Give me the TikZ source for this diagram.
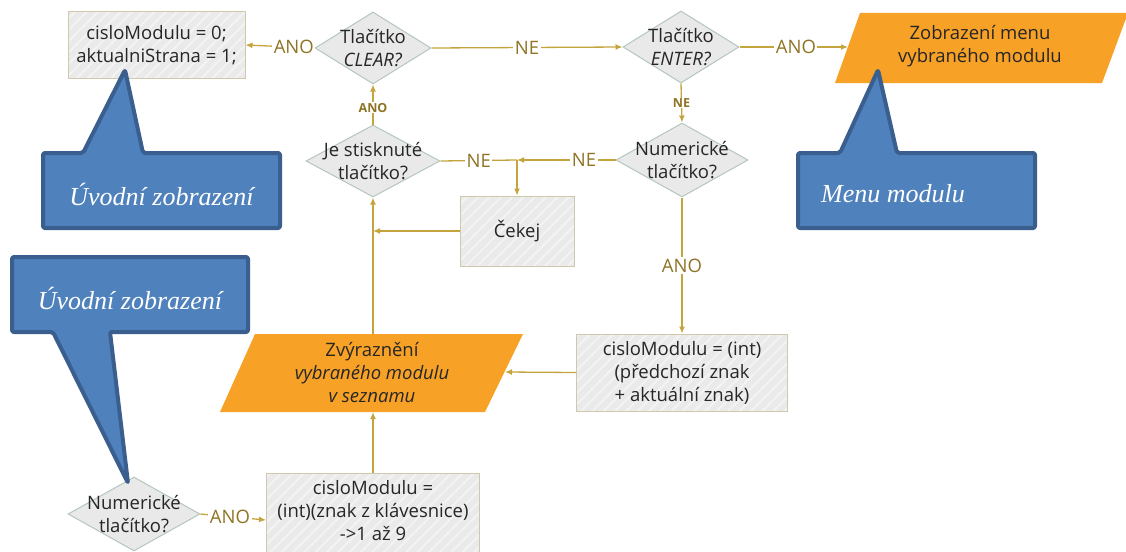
\documentclass[tikz,border=0pt]{standalone}
\usepackage{fontspec}
\setmainfont{Open Sans}
\newfontfamily\calloutfont{Liberation Serif}
\usetikzlibrary{shapes.geometric,arrows.meta,patterns.meta,calc}

\definecolor{flow}{HTML}{C4A43C}
\definecolor{flowtext}{HTML}{8E7424}
\definecolor{boxfill}{HTML}{EAEAEA}
\definecolor{boxstripe}{HTML}{F3F3F3}
\definecolor{boxline}{HTML}{CFC8AC}
\definecolor{diafill}{HTML}{E9E9E9}
\definecolor{dialine}{HTML}{B4C6BE}
\definecolor{io}{HTML}{F7A126}
\definecolor{callfill}{HTML}{4F81BD}
\definecolor{callline}{HTML}{3A5F8E}

\tikzset{
  x=1pt, y=-1pt,
  every node/.style={font=\fontsize{18.5}{23}\selectfont, text=black!85},
  procbox/.style={draw=boxline, line width=1pt,
    preaction={fill=boxfill},
    preaction={pattern={Lines[angle=45,distance=8pt,line width=2pt]}, pattern color=boxstripe},
    align=center, inner sep=0pt},
  decision/.style={diamond, draw=dialine, line width=1pt, fill=diafill, inner sep=0pt},
  diatext/.style={align=center, inner sep=0pt, text=black!85, font=\fontsize{18.5}{23}\selectfont},
  flowline/.style={draw=flow, line width=1.3pt},
  flowarrow/.style={flowline, -{Latex[length=7pt,width=6pt]}},
  flowlabel/.style={fill=white, text=flowtext, inner sep=1.5pt, font=\fontsize{18.5}{20}\selectfont},
  smalllabel/.style={fill=white, text=flowtext, inner sep=1pt, font=\fontsize{12.5}{13}\selectfont\bfseries},
  callout/.style={fill=callfill, draw=callline, line width=4pt, rounded corners=2pt, line join=round},
  callouttext/.style={text=white, font=\fontsize{26}{30}\selectfont\calloutfont\itshape, inner sep=0pt},
}

\begin{document}
\begin{tikzpicture}
\useasboundingbox (0,0) rectangle (1126,551);

% ---- process boxes ----
\node[procbox, minimum width=177, minimum height=66] (init) at (156.5,45)
  {cisloModulu = 0;\\aktualniStrana = 1;};
\node[procbox, minimum width=114, minimum height=70] (cekej) at (517,231) {Čekej};
\node[procbox, minimum width=211, minimum height=77] (calc2) at (682,372.5)
  {cisloModulu = (int)\\(předchozí znak\\+ aktuální znak)};
\node[procbox, minimum width=213, minimum height=94,
  label={[diatext, yshift=9pt]center:{cisloModulu =\\(int)(znak z klávesnice)\\->1 až 9}}]
  (calc1) at (373,520) {};

% ---- decisions ----
\node[decision, minimum width=116, minimum height=72,
  label={[diatext]center:{Tlačítko\\\textit{CLEAR?}}}] (clear) at (373,48) {};
\node[decision, minimum width=116, minimum height=72,
  label={[diatext]center:{Tlačítko\\\textit{ENTER?}}}] (enter) at (681,47) {};
\node[decision, minimum width=134, minimum height=72,
  label={[diatext]center:{Je stisknuté\\tlačítko?}}] (pressed) at (373,161) {};
\node[decision, minimum width=132, minimum height=74,
  label={[diatext]center:{Numerické\\tlačítko?}}] (numR) at (682,160) {};
\node[decision, minimum width=132, minimum height=74,
  label={[diatext]center:{Numerické\\tlačítko?}}] (numB) at (134,514) {};

% ---- input/output parallelograms ----
\fill[io] (860,13) -- (1128,13) -- (1102,83) -- (835,83) -- cycle;
\node[align=center, inner sep=0pt] (menu) at (980,46) {Zobrazení menu\\vybraného modulu};
\coordinate (menu-in) at (848,47);

\fill[io] (255,334) -- (523,334) -- (485,412) -- (220,412) -- cycle;
\node[align=center, inner sep=0pt] (highlight) at (372,372)
  {Zvýraznění\\\textit{vybraného modulu}\\\textit{v seznamu}};
\coordinate (hl-top) at (373,334);
\coordinate (hl-bottom) at (373,412);
\coordinate (hl-in) at (505,372);

% ---- helper points ----
\coordinate (split) at (517,160);
\coordinate (join) at (373,231);

% ---- connectors ----
\draw[flowarrow] (clear.west) -- node[flowlabel, pos=0.3] {ANO} (init.east);
\draw[flowarrow] (clear.east) -- node[flowlabel] {NE} (enter.west);
\draw[flowarrow] (enter.east) -- node[flowlabel, pos=0.52] {ANO} (menu-in);
\draw[flowarrow] (enter.south) -- node[smalllabel] {NE} (numR.north);
\draw[flowarrow] (pressed.north) -- node[smalllabel, pos=0.42] {ANO} (clear.south);
\draw[flowarrow] (numR.west) -- node[flowlabel, pos=0.32] {NE} (split);
\draw[flowline] (split) -- node[flowlabel] {NE} (pressed.east);
\draw[flowarrow] (split) -- (cekej.north);
\draw[flowarrow] (cekej.west) -- (join);
\draw[flowarrow] (hl-top) -- (pressed.south);
\draw[flowarrow] (numR.south) -- node[flowlabel] {ANO} (calc2.north);
\draw[flowarrow] (calc2.west) -- (hl-in);
\draw[flowarrow] (calc1.north) -- (hl-bottom);
\draw[flowarrow] (numB.east) -- node[flowlabel, pos=0.45] {ANO} (calc1.west);

% ---- callouts ----
\draw[callout] (43,153) -- (83,153) -- (125,70) -- (143,153) -- (280,153)
  -- (280,228) -- (43,228) -- cycle;
\node[callouttext] (intro1) at (161.5,194) {Úvodní zobrazení};

\draw[callout] (798,153) -- (840,153) -- (878,70) -- (897,153) -- (1035,153)
  -- (1035,228) -- (798,228) -- cycle;
\node[callouttext, anchor=west] (menucall) at (821,194) {Menu modulu};

\draw[callout] (12,257) -- (248,257) -- (248,332) -- (110,332) -- (128,483)
  -- (53,332) -- (12,332) -- cycle;
\node[callouttext] (intro2) at (130,298) {Úvodní zobrazení};

\end{tikzpicture}
\end{document}
